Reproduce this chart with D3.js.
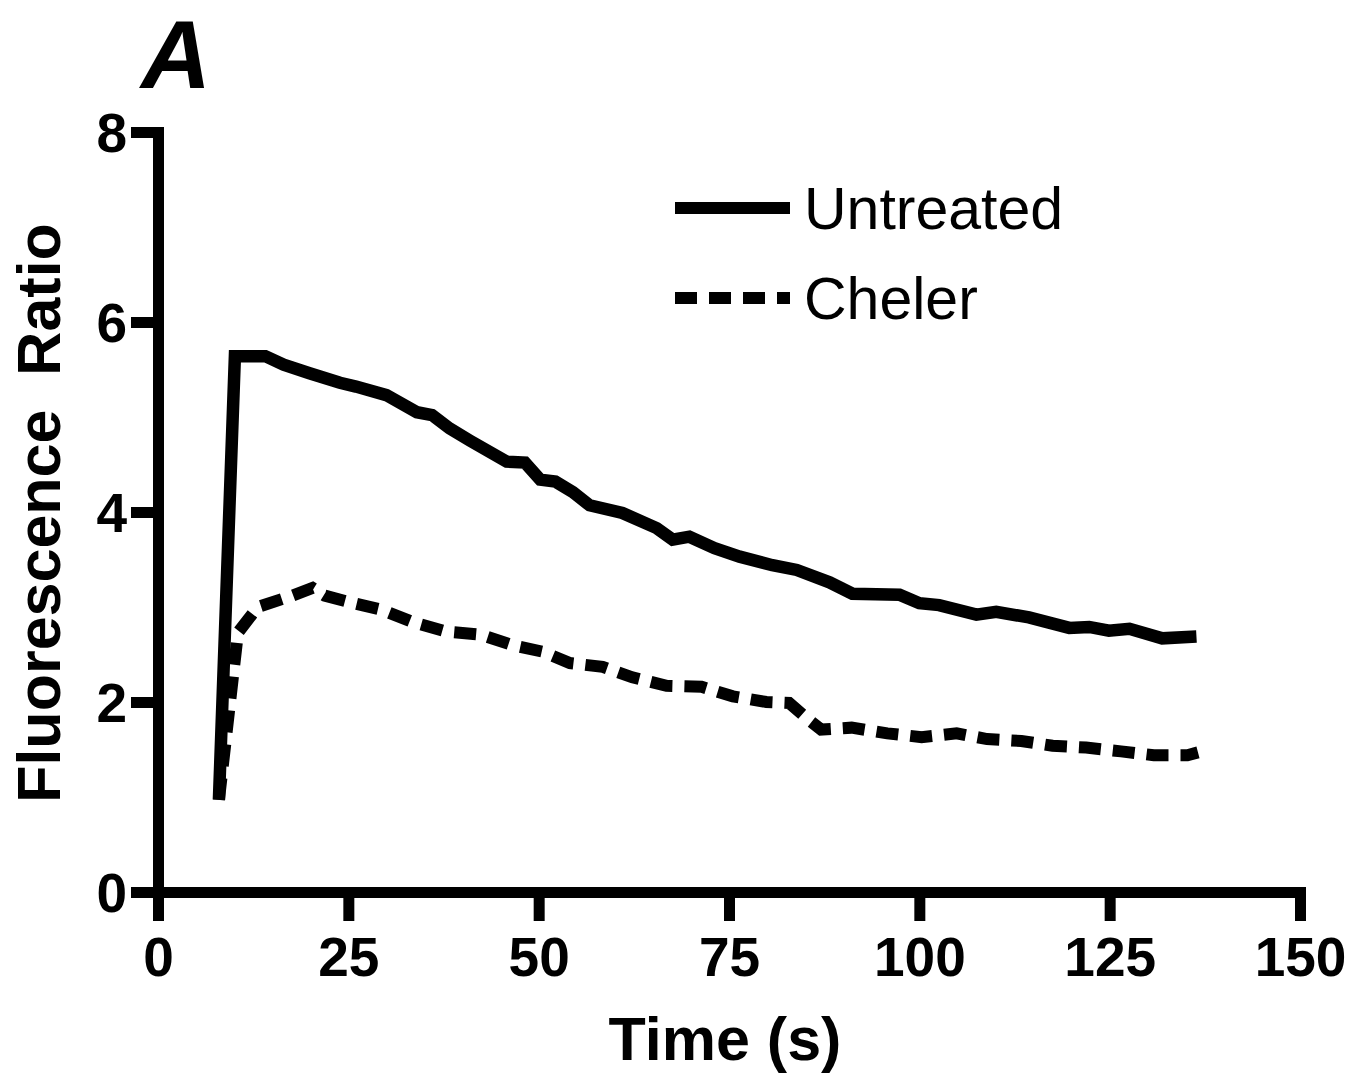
<!DOCTYPE html>
<html>
<head>
<meta charset="utf-8">
<script src="https://cdn.jsdelivr.net/npm/d3@7"></script>
<style>
  body { margin: 0; background: #fff; }
  text { font-family: "Liberation Sans", Arial, sans-serif; fill: #000; }
</style>
</head>
<body>
<div id="chart"></div>
<script>
// time (s) and ratio
let untreatedTime = [8.0, 10.1, 14.1, 16.5, 19.9, 23.9, 26.0, 30.0, 34.0, 36.0, 38.3, 41.0, 45.8, 48.2, 50.2, 52.2, 54.5, 56.7, 61.0, 65.5, 67.6, 69.8, 73.1, 76.4, 80.7, 83.9, 88.2, 91.2, 97.4, 100.0, 102.6, 107.5, 110.1, 114.4, 119.7, 122.3, 124.9, 127.6, 131.9, 136.4];
let untreatedRatio = [0.97, 5.64, 5.64, 5.55, 5.46, 5.36, 5.32, 5.23, 5.05, 5.02, 4.88, 4.75, 4.53, 4.52, 4.34, 4.32, 4.21, 4.07, 3.99, 3.83, 3.71, 3.74, 3.62, 3.53, 3.44, 3.39, 3.26, 3.14, 3.13, 3.04, 3.02, 2.92, 2.95, 2.89, 2.78, 2.79, 2.75, 2.77, 2.67, 2.69];

let chelerTime = [8.0, 10.5, 13.1, 17.3, 20.3, 21.9, 25.2, 29.4, 33.5, 37.9, 42.3, 46.5, 50.5, 54.1, 58.4, 62.3, 66.8, 71.4, 75.5, 79.9, 82.9, 85.2, 87.1, 91.1, 95.8, 100.3, 104.9, 108.9, 113.4, 117.5, 121.9, 126.5, 130.8, 135.2, 136.6];
let chelerRatio = [0.97, 2.73, 3.0, 3.11, 3.2, 3.12, 3.05, 2.97, 2.84, 2.74, 2.71, 2.6, 2.53, 2.41, 2.37, 2.26, 2.17, 2.16, 2.06, 2.0, 1.99, 1.83, 1.71, 1.73, 1.67, 1.63, 1.67, 1.61, 1.59, 1.54, 1.52, 1.48, 1.44, 1.44, 1.47];

let xTicks = [0, 25, 50, 75, 100, 125, 150];
let yTicks = [0, 2, 4, 6, 8];
let seriesNames = ["Untreated", "Cheler"];

function go(){
    let width = 1363,
        height = 1079;
    let margin = {left: 158, top: 132, right: 63, bottom: 187};

    let svg = d3.select("#chart")
        .append("svg")
        .attr("width", width)
        .attr("height", height);

    let x = d3.scaleLinear().domain([0, 150]).range([margin.left, width - margin.right]);
    let y = d3.scaleLinear().domain([0, 8]).range([height - margin.bottom, margin.top]);

    // x axis
    let xAxis = svg.append("g")
        .attr("transform", "translate(0," + y(0) + ")")
        .call(d3.axisBottom(x).tickValues(xTicks).tickSize(29).tickSizeOuter(0).tickPadding(12));
    // y axis
    let yAxis = svg.append("g")
        .attr("transform", "translate(" + x(0) + ",0)")
        .call(d3.axisLeft(y).tickValues(yTicks).tickSize(27).tickSizeOuter(0).tickPadding(4));

    [xAxis, yAxis].forEach(function(a){
        a.select(".domain").attr("stroke", "#000").attr("stroke-width", 11).attr("stroke-linecap", "square");
        a.selectAll(".tick line").attr("stroke", "#000").attr("stroke-width", 11);
        a.selectAll(".tick text")
            .attr("fill", "#000")
            .attr("font-family", "'Liberation Sans', Arial, sans-serif")
            .attr("font-weight", "bold")
            .attr("font-size", 55);
    });
    xAxis.selectAll(".tick text").attr("dy", "0.78em");
    yAxis.selectAll(".tick text").attr("dy", "0.36em");

    let line = d3.line()
        .x(function(d){ return x(d[0]); })
        .y(function(d){ return y(d[1]); });

    let untreated = untreatedTime.map(function(t, i){ return [t, untreatedRatio[i]]; });
    let cheler = chelerTime.map(function(t, i){ return [t, chelerRatio[i]]; });

    svg.append("path")
        .datum(cheler)
        .attr("d", line)
        .attr("fill", "none")
        .attr("stroke", "#000")
        .attr("stroke-width", 12)
        .attr("stroke-dasharray", "22,12")
        .attr("stroke-linejoin", "miter");

    svg.append("path")
        .datum(untreated)
        .attr("d", line)
        .attr("fill", "none")
        .attr("stroke", "#000")
        .attr("stroke-width", 12.5)
        .attr("stroke-linejoin", "miter");

    // legend
    let legend = svg.append("g");
    let legendY = [208, 298];
    seriesNames.forEach(function(name, i){
        legend.append("line")
            .attr("x1", 675).attr("x2", 790)
            .attr("y1", legendY[i]).attr("y2", legendY[i])
            .attr("stroke", "#000")
            .attr("stroke-width", 12)
            .attr("stroke-dasharray", i === 1 ? "22,12" : null);
        legend.append("text")
            .attr("x", 804)
            .attr("y", legendY[i] + 21)
            .attr("font-size", 59)
            .text(name);
    });

    // axis titles
    svg.append("text")
        .attr("x", x(75) - 4)
        .attr("y", 1060)
        .attr("text-anchor", "middle")
        .attr("font-weight", "bold")
        .attr("font-size", 61)
        .text("Time (s)");

    svg.append("text")
        .attr("transform", "translate(60," + 513 + ") rotate(-90)")
        .attr("text-anchor", "middle")
        .attr("font-weight", "bold")
        .attr("font-size", 61)
        .attr("xml:space", "preserve")
        .text("Fluorescence  Ratio");

    svg.append("text")
        .attr("x", 141)
        .attr("y", 88)
        .attr("font-weight", "bold")
        .attr("font-style", "italic")
        .attr("font-size", 97)
        .text("A");
}
go();
</script>
</body>
</html>
